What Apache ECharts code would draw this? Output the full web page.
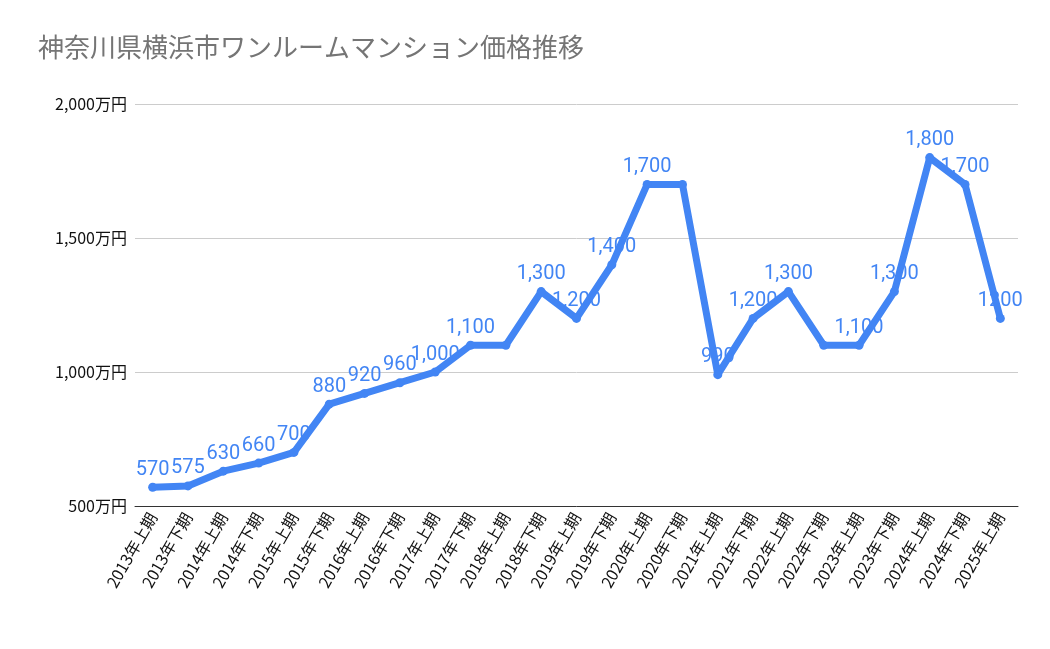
<!DOCTYPE html>
<html><head><meta charset="utf-8">
<script src="https://cdn.jsdelivr.net/npm/echarts@6/dist/echarts.min.js"></script>
<style>html,body{margin:0;background:#fff}#c{width:1050px;height:649px}</style>
</head><body><div id="c"></div>
<script>
const categories = ["2013年上期","2013年下期","2014年上期","2014年下期","2015年上期","2015年下期","2016年上期","2016年下期","2017年上期","2017年下期","2018年上期","2018年下期","2019年上期","2019年下期","2020年上期","2020年下期","2021年上期","2021年下期","2022年上期","2022年下期","2023年上期","2023年下期","2024年上期","2024年下期","2025年上期"];
const values = [570,575,630,660,700,880,920,960,1000,1100,1100,1300,1200,1400,1700,1700,990,1200,1300,1100,1100,1300,1800,1700,1200];
const hiddenLabels = [10,15,19];
const yTicks = [500,1000,1500,2000];
const font = '"Noto Sans CJK JP", Roboto, sans-serif';
const chart = echarts.init(document.getElementById('c'));
chart.setOption({
  title:{text:'神奈川県横浜市ワンルームマンション価格推移',left:33,top:29,textStyle:{color:'#757575',fontSize:26,fontWeight:'normal',fontFamily:font}},
  grid:{left:135,right:32,top:104,bottom:143},
  xAxis:{type:'category',data:categories,boundaryGap:true,
    axisLine:{show:true,lineStyle:{color:'#333'}},axisTick:{show:false},
    axisLabel:{rotate:60,interval:0,color:'#111',fontSize:16,fontFamily:font,margin:8}},
  yAxis:{type:'value',min:500,max:2000,interval:500,
    axisLine:{show:false},axisTick:{show:false},
    splitLine:{lineStyle:{color:'#ccc'}},
    axisLabel:{color:'#111',fontSize:16,fontFamily:font,margin:8,
      formatter:v=>yTicks.includes(v)?v.toLocaleString('en-US')+'万円':''}},
  series:[{type:'line',data:values,symbol:'circle',symbolSize:9,
    lineStyle:{color:'#4285f4',width:7},itemStyle:{color:'#4285f4'},
    label:{show:true,position:'top',distance:3,color:'#4285f4',fontSize:20,fontFamily:'Roboto, sans-serif',
      formatter:p=>hiddenLabels.includes(p.dataIndex)?'':(p.dataIndex===values.length-1?String(p.value):p.value.toLocaleString('en-US'))},
    labelLayout:{hideOverlap:false}}]
});
</script></body></html>
